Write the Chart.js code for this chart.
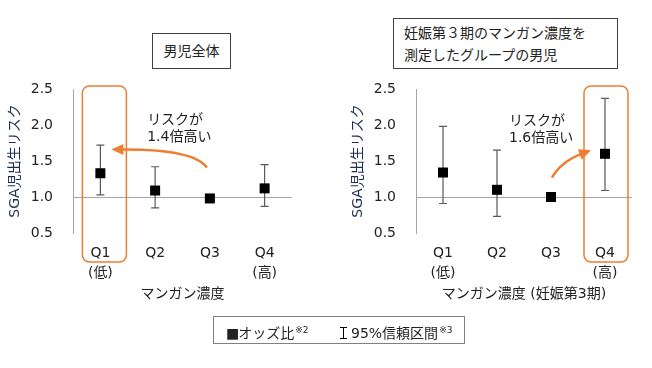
<!DOCTYPE html>
<html>
<head>
<meta charset="utf-8">
<script src="https://cdn.jsdelivr.net/npm/chart.js@4.4.0/dist/chart.umd.min.js"></script>
<style>
  body { margin: 0; width: 652px; height: 368px; background: #fff; position: relative; overflow: hidden;
         font-family: "DejaVu Sans", "Noto Sans CJK JP", sans-serif; color: #222; }
  canvas { position: absolute; top: 0; }
  .box { position: absolute; box-sizing: border-box; border: 1px solid #404040; font-size: 14px; background: #fff; }
  .legend { position: absolute; left: 213px; top: 316px; width: 252px; height: 28px; box-sizing: border-box;
            border: 1px solid #808080; font-size: 14px; }
  .legend .item { position: absolute; top: 4px; line-height: 18px; white-space: nowrap; }
  .legend sup { font-size: 9px; vertical-align: 5px; margin-left: 1px; }
  .ci { display: inline-block; width: 7px; height: 12px; box-sizing: border-box; margin-right: 4px;
        border-top: 1px solid #000; border-bottom: 1px solid #000; vertical-align: -1px;
        background: linear-gradient(to right, transparent 3px, #000 3px, #000 4px, transparent 4px); }
</style>
</head>
<body>
<canvas id="left" width="326" height="368" style="left:0"></canvas>
<canvas id="right" width="326" height="368" style="left:326px"></canvas>

<div class="box" style="left:152px;top:33px;width:79px;height:36px;line-height:34px;text-align:center;">男児全体</div>
<div class="box" style="left:393px;top:18px;width:225px;height:51px;line-height:22px;padding:3px 0 0 10px;">妊娠第３期のマンガン濃度を<br>測定したグループの男児</div>

<div class="legend">
  <span class="item" style="left:12px"><span style="font-size:14px;vertical-align:0px;margin-right:-1px">■</span>オッズ比<sup>※2</sup></span>
  <span class="item" style="left:126px"><span class="ci"></span>95%信頼区間<sup>※3</sup></span>
</div>

<script>
// Data
const categories = [['Q1', '(低)'], ['Q2', ''], ['Q3', ''], ['Q4', '(高)']];
const yTicks = [0.5, 1.0, 1.5, 2.0, 2.5];

// 男児全体
const allOdds = [1.33, 1.09, 0.98, 1.12];
const allLow = [1.03, 0.85, null, 0.87];
const allHigh = [1.72, 1.42, null, 1.45];

// 妊娠第3期
const thirdOdds = [1.34, 1.10, 1.00, 1.60];
const thirdLow = [0.91, 0.73, null, 1.09];
const thirdHigh = [1.98, 1.65, null, 2.37];

const ORANGE = '#ED7D31';
const FONT = '"DejaVu Sans", "Noto Sans CJK JP", sans-serif';

// error bars, highlight box, arrow and note
const extras = {
  id: 'extras',
  beforeDatasetsDraw(chart, args, o) {
    const x = chart.scales.x, y = chart.scales.y, ctx = chart.ctx;
    ctx.save();
    ctx.strokeStyle = '#595959';
    ctx.lineWidth = 1.2;
    o.low.forEach((lo, i) => {
      if (lo == null) return;
      const px = x.getPixelForValue(i);
      const y1 = y.getPixelForValue(lo), y2 = y.getPixelForValue(o.high[i]);
      ctx.beginPath();
      ctx.moveTo(px, y1); ctx.lineTo(px, y2);
      ctx.moveTo(px - 4, y1); ctx.lineTo(px + 4, y1);
      ctx.moveTo(px - 4, y2); ctx.lineTo(px + 4, y2);
      ctx.stroke();
    });
    ctx.restore();
  },
  afterDraw(chart, args, o) {
    const x = chart.scales.x, y = chart.scales.y, ctx = chart.ctx;
    ctx.save();
    // highlight box
    const cx = x.getPixelForValue(o.box) + o.boxDx;
    const top = y.getPixelForValue(2.5) - 3, bottom = y.getPixelForValue(0.5) + 29;
    ctx.strokeStyle = ORANGE;
    ctx.lineWidth = 1.5;
    ctx.beginPath();
    ctx.roundRect(cx - 22, top, 44, bottom - top, 7);
    ctx.stroke();

    // arrow
    const pt = (p) => [x.getPixelForValue(p[0]) + p[1], y.getPixelForValue(p[2])];
    const [sx, sy] = pt(o.arrow.from), [qx, qy] = pt(o.arrow.ctrl), [ex, ey] = pt(o.arrow.to);
    const ang = Math.atan2(ey - qy, ex - qx);
    const bx = ex - Math.cos(ang) * 9, by = ey - Math.sin(ang) * 9;
    ctx.strokeStyle = ORANGE;
    ctx.fillStyle = ORANGE;
    ctx.lineWidth = 2.5;
    ctx.beginPath();
    ctx.moveTo(sx, sy);
    ctx.quadraticCurveTo(qx, qy, bx, by);
    ctx.stroke();
    ctx.beginPath();
    ctx.moveTo(ex, ey);
    ctx.lineTo(ex - Math.cos(ang) * 12 + Math.sin(ang) * 5.5, ey - Math.sin(ang) * 12 - Math.cos(ang) * 5.5);
    ctx.lineTo(ex - Math.cos(ang) * 12 - Math.sin(ang) * 5.5, ey - Math.sin(ang) * 12 + Math.cos(ang) * 5.5);
    ctx.closePath();
    ctx.fill();

    // note
    ctx.fillStyle = '#222';
    ctx.font = '14px ' + FONT;
    ctx.textBaseline = 'middle';
    ctx.textAlign = 'left';
    const [nx, ny] = pt(o.note.at);
    o.note.lines.forEach((t, i) => ctx.fillText(t, nx, ny + i * 17));
    ctx.restore();
  }
};

function makeChart(id, odds, low, high, cfg) {
  return new Chart(document.getElementById(id), {
    type: 'line',
    data: {
      labels: categories,
      datasets: [{
        data: odds,
        showLine: false,
        pointStyle: 'rect',
        pointRadius: 7.07,
        pointHoverRadius: 7.07,
        pointBackgroundColor: '#000',
        pointBorderWidth: 0
      }]
    },
    options: {
      responsive: false,
      animation: false,
      events: [],
      layout: { padding: { left: 0, top: 89, right: cfg.padRight, bottom: 65 } },
      plugins: {
        legend: { display: false },
        tooltip: { enabled: false },
        extras: { low, high, box: cfg.box, boxDx: cfg.boxDx, arrow: cfg.arrow, note: cfg.note }
      },
      scales: {
        x: {
          offset: true,
          grid: { display: false, drawTicks: false },
          border: { display: false },
          ticks: { color: '#222', padding: 10, font: { family: FONT, size: 14, lineHeight: '20px' } },
          title: { display: true, text: cfg.xTitle, color: '#222', padding: 0, font: { family: FONT, size: 14 } },
          afterFit: (s) => { s.height = 70; }
        },
        y: {
          min: 0.5,
          max: 2.5,
          afterBuildTicks: (s) => { s.ticks = yTicks.map(v => ({ value: v })); },
          grid: {
            drawTicks: false,
            color: (c) => c.tick && c.tick.value === 1 ? '#a6a6a6' : 'transparent'
          },
          border: { display: true, color: '#a6a6a6' },
          ticks: { color: '#222', padding: 20, font: { family: FONT, size: 14 }, callback: (v) => Number(v).toFixed(1) },
          title: { display: true, text: 'SGA児出生リスク', color: '#1f2f4f', padding: { top: cfg.yTitlePad }, font: { family: FONT, size: 14 } },
          afterFit: (s) => { s.width = cfg.yWidth; }
        }
      }
    },
    plugins: [extras]
  });
}

makeChart('left', allOdds, allLow, allHigh, {
  xTitle: 'マンガン濃度',
  padRight: 34, yWidth: 73, yTitlePad: 7,
  box: 0, boxDx: 4,
  arrow: { from: [2, -3, 1.41], ctrl: [2, -16, 1.67], to: [0, 11, 1.66] },
  note: { at: [1, -8, 2.06], lines: ['リスクが', '1.4倍高い'] }
});

makeChart('right', thirdOdds, thirdLow, thirdHigh, {
  xTitle: 'マンガン濃度 (妊娠第3期)',
  padRight: 20, yWidth: 90, yTitlePad: 24,
  box: 3, boxDx: 1,
  arrow: { from: [2, 1, 1.27], ctrl: [2, 10, 1.49], to: [3, -14, 1.65] },
  note: { at: [2, -42, 2.05], lines: ['リスクが', '1.6倍高い'] }
});
</script>
</body>
</html>
